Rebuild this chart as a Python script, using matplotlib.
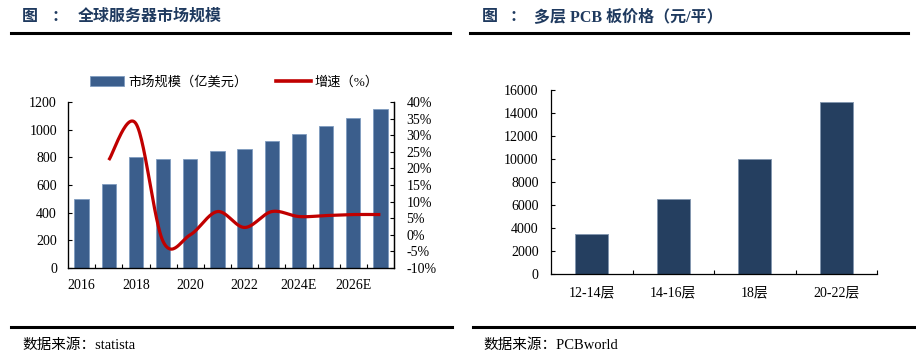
import numpy as np
import matplotlib
matplotlib.use("Agg")
import matplotlib.pyplot as plt
from matplotlib.lines import Line2D
from matplotlib.patches import Patch

plt.rcParams['font.family'] = ['Liberation Serif', 'Noto Sans CJK SC']

# 全球服务器市场规模
anios = ['2016', '2017', '2018', '2019', '2020', '2021', '2022', '2023',
         '2024E', '2025E', '2026E', '2027E']
mercado = [500, 605, 805, 790, 788, 845, 860, 920, 970, 1025, 1087, 1152]  # 亿美元
crecimiento = [None, 22.5, 33.5, -2.0, 0.0, 7.0, 2.2, 7.0, 5.5, 5.8, 6.1, 6.1]  # %

# 多层PCB板价格
capas = ['12-14层', '14-16层', '18层', '20-22层']
precio = [3500, 6500, 10000, 15000]  # 元/平

W, H = 916, 360
AZUL = '#3B5E8C'
NAVY = '#253F60'
ROJO = '#C00000'
TITULO = '#1F3A5F'


def px(x, y):
    return x / W, 1 - y / H


def suavizar(xs, ys, n=30):
    # curva suave tipo Excel (Catmull-Rom) a través de los puntos
    xs = np.asarray(xs, float)
    ys = np.asarray(ys, float)
    cx, cy = [], []
    for i in range(len(xs) - 1):
        x0, y0 = (xs[i - 1], ys[i - 1]) if i > 0 else (xs[i], ys[i])
        x3, y3 = (xs[i + 2], ys[i + 2]) if i + 2 < len(xs) else (xs[i + 1], ys[i + 1])
        x1, y1, x2, y2 = xs[i], ys[i], xs[i + 1], ys[i + 1]
        b1 = (x1 + (x2 - x0) / 6, y1 + (y2 - y0) / 6)
        b2 = (x2 - (x3 - x1) / 6, y2 - (y3 - y1) / 6)
        t = np.linspace(0, 1, n)
        cx.append((1-t)**3*x1 + 3*(1-t)**2*t*b1[0] + 3*(1-t)*t**2*b2[0] + t**3*x2)
        cy.append((1-t)**3*y1 + 3*(1-t)**2*t*b1[1] + 3*(1-t)*t**2*b2[1] + t**3*y2)
    return np.concatenate(cx), np.concatenate(cy)


fig = plt.figure(figsize=(W / 100, H / 100), dpi=100)

# ---- encabezados y pies ----
for (xi, xf) in [(11, 450), (470, 908)]:
    fig.add_artist(Line2D([xi / W, xf / W], [1 - 33 / H] * 2, color='black', lw=2.2))
for (xi, xf) in [(11, 452), (473, 916)]:
    fig.add_artist(Line2D([xi / W, xf / W], [1 - 327 / H] * 2, color='black', lw=2.2))

tit = dict(fontsize=11.5, fontweight='bold', color=TITULO, va='center')
fig.text(*px(22, 17), '图', ha='left', **tit)
fig.text(*px(60, 17), '：', ha='center', **tit)
fig.text(*px(78, 17), '全球服务器市场规模', ha='left', **tit)
fig.text(*px(482, 17), '图', ha='left', **tit)
fig.text(*px(518, 17), '：', ha='center', **tit)
fig.text(*px(534, 17), '多层 PCB 板价格（元/平）', ha='left', **tit)

fig.text(*px(22, 345), '数据来源：statista', ha='left', va='center', fontsize=10.5)
fig.text(*px(483, 345), '数据来源：PCBworld', ha='left', va='center', fontsize=10.5)

# ---- gráfico izquierdo ----
ax = fig.add_axes([68 / W, 1 - 268 / H, 326 / W, 166 / H])
x = np.arange(len(anios))
ax.bar(x, mercado, width=0.53, color=AZUL, edgecolor='#7F9CC0', linewidth=0.6, zorder=2)
ax.set_xlim(-0.5, len(anios) - 0.5)
ax.set_ylim(0, 1200)
ax.set_yticks(range(0, 1201, 200))
ax.set_xticks(x[::2])
ax.set_xticklabels(anios[::2])
ax.set_xticks(np.arange(0.5, len(anios) - 0.5, 1), minor=True)
ax.tick_params(axis='x', which='major', length=0, pad=8, labelsize=10)
ax.tick_params(axis='x', which='minor', direction='in', length=3, width=0.8)
ax.tick_params(axis='y', direction='in', length=3, width=0.8, pad=8, labelsize=10)
ax.spines['top'].set_visible(False)
for s in ['left', 'bottom', 'right']:
    ax.spines[s].set_linewidth(0.9)

ax2 = ax.twinx()
xs = [i for i, v in enumerate(crecimiento) if v is not None]
ys = [crecimiento[i] for i in xs]
cx, cy = suavizar(xs, ys)
ax2.plot(cx, cy, color=ROJO, lw=2.3, solid_capstyle='butt', zorder=3)
ax2.set_ylim(-10, 40)
ax2.set_yticks(range(-10, 41, 5))
ax2.set_yticklabels([f'{v}%' for v in range(-10, 41, 5)])
ax2.tick_params(axis='y', direction='in', length=3, width=0.8, pad=9, labelsize=10)
ax2.spines['top'].set_visible(False)
ax2.spines['right'].set_linewidth(0.9)

manejadores = [Patch(facecolor=AZUL, edgecolor='#7F9CC0', linewidth=0.6),
               Line2D([0], [0], color=ROJO, lw=2.6)]
fig.legend(manejadores, ['市场规模（亿美元）', '增速（%）'], ncol=2, frameon=False,
           loc='center left', bbox_to_anchor=px(78, 82), fontsize=9.5,
           handlelength=2.6, handleheight=0.75, handletextpad=0.3, columnspacing=2.2)

# ---- gráfico derecho ----
bx = fig.add_axes([551 / W, 1 - 274 / H, 326 / W, 184 / H])
xb = np.arange(len(capas))
bx.bar(xb, precio, width=0.4, color=NAVY, edgecolor='#8497B0', linewidth=0.7, zorder=2)
bx.set_xlim(-0.5, len(capas) - 0.5)
bx.set_ylim(0, 16000)
bx.set_yticks(range(0, 16001, 2000))
bx.set_xticks(xb)
bx.set_xticklabels(capas)
bx.set_xticks(np.arange(0.5, len(capas), 1), minor=True)
bx.tick_params(axis='x', which='major', length=0, pad=9, labelsize=10)
bx.tick_params(axis='x', which='minor', direction='in', length=3, width=0.8)
bx.tick_params(axis='y', direction='in', length=3, width=0.8, pad=9, labelsize=10)
for s in ['top', 'right']:
    bx.spines[s].set_visible(False)
for s in ['left', 'bottom']:
    bx.spines[s].set_linewidth(0.9)

fig.savefig('out.png', dpi=100)
